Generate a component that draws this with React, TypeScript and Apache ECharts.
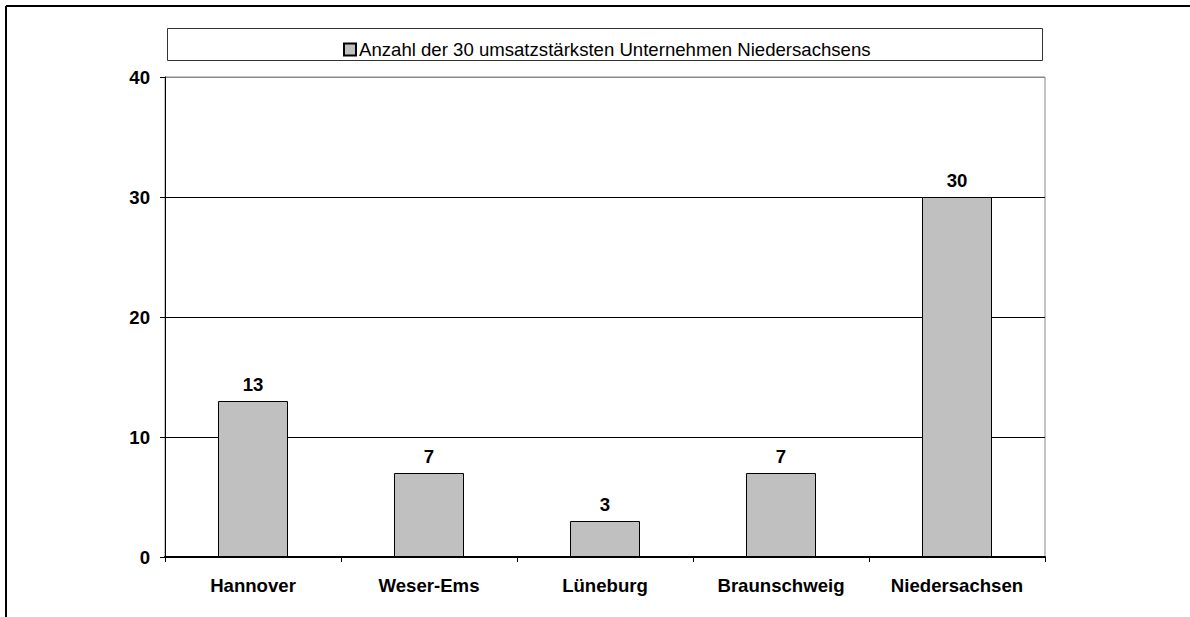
import React, { useEffect, useRef } from "react";
import * as echarts from "echarts";

const categories = ["Hannover", "Weser-Ems", "Lüneburg", "Braunschweig", "Niedersachsen"];
const values = [13, 7, 3, 7, 30];
const seriesName = "Anzahl der 30 umsatzstärksten Unternehmen Niedersachsens";
const yTicks = { min: 0, max: 40, interval: 10 };

export default function App() {
  const ref = useRef<HTMLDivElement>(null);
  useEffect(() => {
    const chart = echarts.init(ref.current!, null, { renderer: "svg" });
    const font = "Arial, 'Liberation Sans', sans-serif";
    const fs = 18.6;
    chart.setOption({
      animation: false,
      backgroundColor: "#fff",
      textStyle: { fontFamily: font },
      graphic: [
        { type: "line", shape: { x1: 6, y1: 6, x2: 1190, y2: 6 }, style: { stroke: "#000", lineWidth: 2 } },
        { type: "line", shape: { x1: 6, y1: 6, x2: 6, y2: 617 }, style: { stroke: "#000", lineWidth: 2 } },
        {
          type: "rect",
          shape: { x: 167.5, y: 28.5, width: 875, height: 32 },
          style: { fill: "#fff", stroke: "#333", lineWidth: 1 },
          z: -1,
        },
      ],
      legend: {
        data: [seriesName],
        left: 338,
        top: 35,
        icon: "rect",
        itemWidth: 12,
        itemHeight: 12,
        itemGap: 4,
        textStyle: { fontFamily: font, fontSize: fs, color: "#000", padding: [0, 0, 0, -2] },
      },
      grid: {
        left: 165,
        right: 145,
        top: 77,
        bottom: 60,
        show: true,
        borderColor: "#888",
        borderWidth: 1,
        backgroundColor: "transparent",
      },
      xAxis: {
        type: "category",
        data: categories,
        axisLine: { show: true, lineStyle: { color: "#000", width: 2 } },
        axisTick: { show: true, length: 5, inside: false, alignWithLabel: false, lineStyle: { color: "#000", width: 1 } },
        axisLabel: { fontFamily: font, fontSize: fs, fontWeight: "bold", color: "#000", margin: 19 },
      },
      yAxis: {
        type: "value",
        min: yTicks.min,
        max: yTicks.max,
        interval: yTicks.interval,
        axisLine: { show: true, lineStyle: { color: "#000", width: 1 } },
        axisTick: { show: true, length: 5, lineStyle: { color: "#000" } },
        axisLabel: { fontFamily: font, fontSize: fs, fontWeight: "bold", color: "#000", margin: 15 },
        splitLine: { show: true, lineStyle: { color: ["#000", "#000", "#000", "#000", "#888"], width: 1 } },
      },
      series: [
        {
          name: seriesName,
          type: "bar",
          data: values,
          barWidth: 70,
          itemStyle: { color: "#c0c0c0", borderColor: "#000", borderWidth: 1 },
          label: {
            show: true,
            position: "top",
            distance: 7,
            fontFamily: font,
            fontSize: fs,
            fontWeight: "bold",
            color: "#000",
          },
        },
      ],
    });
    return () => chart.dispose();
  }, []);
  return (
    <div
      ref={ref}
      style={{ position: "fixed", left: 0, top: 0, width: 1190, height: 617 }}
    />
  );
}
